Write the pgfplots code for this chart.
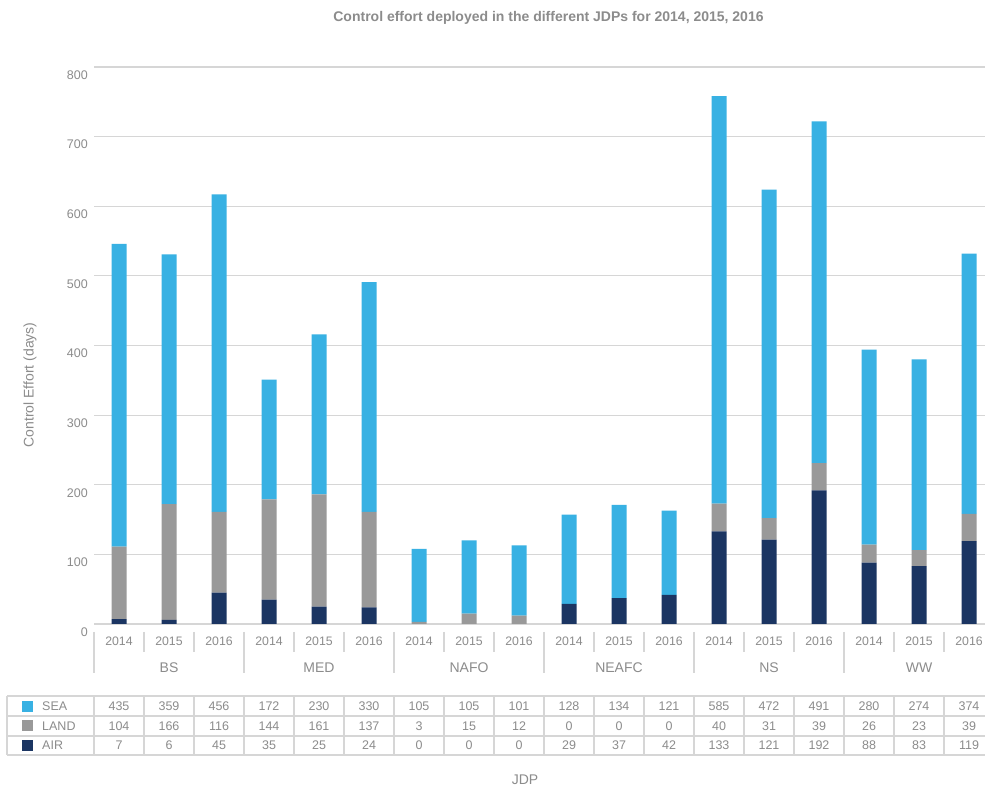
\documentclass[border=0pt]{standalone}
\usepackage{fontspec}
\setmainfont{Liberation Sans}
\usepackage{pgfplots}
\usepackage{pgfplotstable}
\pgfplotsset{compat=1.18}
\definecolor{sea}{HTML}{38B1E3}
\definecolor{land}{HTML}{999999}
\definecolor{air}{HTML}{1B3562}
\definecolor{txt}{HTML}{8C8C8C}
\definecolor{gridc}{HTML}{D6D6D6}

\pgfplotstableread{
x year sea land air
0 2014 435 104 7
1 2015 359 166 6
2 2016 456 116 45
3 2014 172 144 35
4 2015 230 161 25
5 2016 330 137 24
6 2014 105 3 0
7 2015 105 15 0
8 2016 101 12 0
9 2014 128 0 29
10 2015 134 0 37
11 2016 121 0 42
12 2014 585 40 133
13 2015 472 31 121
14 2016 491 39 192
15 2014 280 26 88
16 2015 274 23 83
17 2016 374 39 119
}\datatable

\begin{document}
\begin{tikzpicture}[x=1bp,y=1bp,font=\fontsize{12.5bp}{15bp}\selectfont]
\useasboundingbox (0,0) rectangle (985,787);
\fill[white] (0,0) rectangle (985,787);
\begin{axis}[
  at={(94bp,163bp)}, anchor=south west,
  scale only axis, width=900bp, height=557bp,
  xmin=-0.5, xmax=17.5, ymin=0, ymax=800,
  ybar stacked, bar width=15bp,
  axis line style={draw=none},
  tick style={draw=none},
  ymajorgrids, grid style={gridc, line width=1.2bp},
  ytick={0,100,...,800},
  /pgf/number format/assume math mode=true,
  yticklabel style={text=txt, font=\fontsize{12.5bp}{15bp}\selectfont, anchor=east, inner sep=0pt, xshift=-6bp, yshift=-8bp},
  xtick={0,...,17},
  xticklabels={2014,2015,2016,2014,2015,2016,2014,2015,2016,2014,2015,2016,2014,2015,2016,2014,2015,2016},
  xticklabel style={text=txt, font=\fontsize{12.3bp}{15bp}\selectfont, anchor=center, inner sep=0pt, yshift=-17bp},
  clip=false,
]
\addplot[fill=air, draw=none] table[x=x, y=air] {\datatable};
\addplot[fill=land, draw=none] table[x=x, y=land] {\datatable};
\addplot[fill=sea, draw=none] table[x=x, y=sea] {\datatable};
\end{axis}
% title and labels
\node[text=txt, font=\bfseries\fontsize{14bp}{16bp}\selectfont] at (548.5,769) {Control effort deployed in the different JDPs for 2014, 2015, 2016};
\node[text=txt, rotate=90, font=\fontsize{14bp}{16bp}\selectfont] at (30,402) {Control Effort (days)};
\node[text=txt, font=\fontsize{14bp}{16bp}\selectfont] at (525,7) {JDP};
% category separators
\foreach \k in {0,3,...,18} {\draw[gridc, line width=1.2bp] ({94+50*\k},155) -- ({94+50*\k},114);}
\foreach \k in {1,2,4,5,7,8,10,11,13,14,16,17} {\draw[gridc, line width=1.2bp] ({94+50*\k},155) -- ({94+50*\k},135);}
\foreach \g/\n in {0/BS,1/MED,2/NAFO,3/NEAFC,4/NS,5/WW} {\node[text=txt, font=\fontsize{14bp}{16bp}\selectfont] at ({94+150*\g+75},119) {\n};}
% data table
\foreach \yy in {91,71,51,32} {\draw[gridc, line width=1.2bp] (7,\yy) -- (985,\yy);}
\draw[gridc, line width=1.2bp] (7,91) -- (7,32);
\foreach \k in {0,...,17} {\draw[gridc, line width=1.2bp] ({94+50*\k},91) -- ({94+50*\k},32);}
\fill[sea] (21.5,75) rectangle (32.5,86);
\fill[land] (21.5,55.5) rectangle (32.5,66.5);
\fill[air] (21.5,36) rectangle (32.5,47);
\node[text=txt, anchor=west, inner sep=0pt] at (42,81) {SEA};
\node[text=txt, anchor=west, inner sep=0pt] at (42,61) {LAND};
\node[text=txt, anchor=west, inner sep=0pt] at (42,41.5) {AIR};
\foreach \i in {0,...,17} {
  \pgfplotstablegetelem{\i}{sea}\of\datatable
  \node[text=txt] at ({119+50*\i},81) {\pgfplotsretval};
  \pgfplotstablegetelem{\i}{land}\of\datatable
  \node[text=txt] at ({119+50*\i},61) {\pgfplotsretval};
  \pgfplotstablegetelem{\i}{air}\of\datatable
  \node[text=txt] at ({119+50*\i},41.5) {\pgfplotsretval};
}
\end{tikzpicture}
\end{document}
